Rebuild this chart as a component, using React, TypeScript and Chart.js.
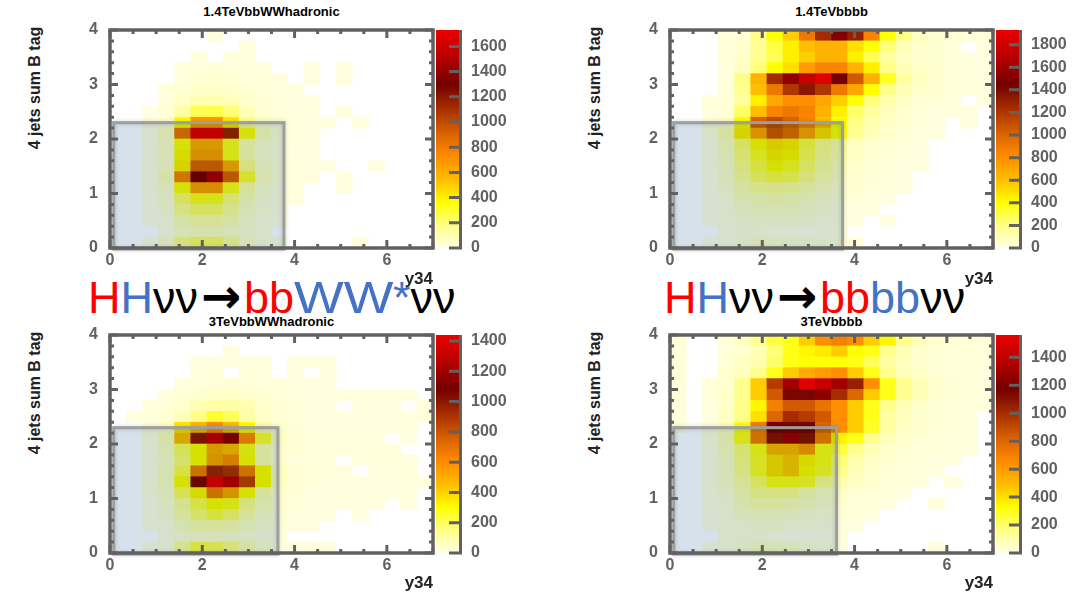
import React, { useEffect, useRef } from 'react';
import { Chart, registerables } from 'chart.js';

Chart.register(...registerables);

// ---------- axis ranges & ticks ----------
const X_MIN = 0;
const X_MAX = 7;
const Y_MIN = 0;
const Y_MAX = 4;
const N_X_BINS = 20;
const N_Y_BINS = 20;
const X_TICKS = [0, 2, 4, 6];
const Y_TICKS = [0, 1, 2, 3, 4];
const X_MINOR_STEP = 0.5;
const Y_MINOR_STEP = 0.2;
const CB_STEP = 200;

// ---------- histogram contents ----------
// rows from top (y 3.8-4.0) to bottom (y 0-0.2); 20 columns from x=0 to x=7
const bbWW14Rows: number[][] = [
  [0, 0, 0, 0, 0, 0, 20, 0, 0, 0, 0, 0, 0, 0, 0, 0, 0, 0, 0, 0],
  [0, 0, 0, 0, 0, 0, 0, 0, 20, 0, 0, 0, 0, 0, 0, 0, 0, 0, 0, 0],
  [0, 0, 0, 0, 0, 15, 0, 20, 20, 0, 0, 0, 0, 0, 0, 0, 0, 0, 0, 0],
  [0, 0, 0, 0, 20, 25, 30, 25, 20, 15, 0, 0, 15, 0, 15, 0, 0, 0, 0, 0],
  [0, 0, 0, 0, 25, 35, 40, 35, 25, 20, 15, 0, 15, 0, 15, 0, 0, 0, 0, 0],
  [0, 0, 0, 20, 35, 60, 60, 50, 35, 25, 15, 15, 0, 0, 0, 0, 0, 0, 0, 0],
  [0, 0, 0, 25, 60, 100, 110, 90, 50, 30, 20, 15, 15, 0, 0, 0, 0, 0, 0, 0],
  [0, 0, 10, 30, 120, 250, 260, 200, 90, 40, 25, 15, 15, 0, 15, 0, 0, 0, 0, 0],
  [0, 0, 15, 40, 350, 650, 650, 420, 150, 60, 30, 20, 15, 15, 0, 15, 0, 0, 0, 0],
  [0, 0, 20, 80, 820, 1700, 1720, 1150, 350, 100, 40, 25, 15, 0, 0, 0, 0, 0, 0, 0],
  [0, 0, 15, 60, 350, 600, 600, 320, 120, 50, 30, 15, 15, 0, 0, 0, 0, 0, 0, 0],
  [0, 0, 15, 60, 380, 650, 650, 330, 120, 50, 30, 15, 15, 0, 0, 0, 0, 0, 0, 0],
  [0, 0, 15, 60, 400, 900, 900, 600, 180, 60, 30, 15, 15, 15, 0, 0, 15, 0, 0, 0],
  [0, 0, 20, 90, 750, 1320, 1480, 900, 300, 80, 35, 20, 15, 0, 15, 0, 0, 0, 0, 0],
  [0, 0, 15, 60, 350, 650, 650, 330, 130, 50, 25, 15, 0, 0, 15, 0, 0, 0, 0, 0],
  [0, 0, 12, 45, 220, 330, 330, 200, 90, 40, 20, 15, 0, 0, 0, 0, 0, 0, 0, 0],
  [0, 0, 10, 35, 170, 220, 220, 150, 70, 30, 15, 0, 0, 0, 0, 0, 0, 0, 0, 0],
  [0, 0, 8, 25, 100, 130, 130, 100, 50, 25, 10, 0, 0, 0, 0, 0, 0, 0, 0, 0],
  [0, 0, 0, 20, 60, 80, 80, 60, 35, 20, 0, 0, 0, 0, 0, 0, 0, 0, 0, 0],
  [0, 0, 10, 60, 180, 220, 220, 150, 60, 25, 15, 0, 0, 0, 0, 15, 0, 0, 0, 0],
];

const bbbb14Rows: number[][] = [
  [0, 0, 0, 30, 40, 200, 400, 550, 900, 1250, 1500, 1300, 850, 400, 200, 80, 50, 40, 30, 30],
  [0, 0, 0, 25, 50, 180, 300, 450, 600, 650, 650, 500, 400, 220, 100, 60, 40, 30, 0, 20],
  [0, 0, 0, 25, 60, 180, 280, 450, 550, 650, 650, 450, 280, 150, 80, 50, 40, 30, 20, 20],
  [0, 0, 0, 20, 80, 220, 400, 500, 750, 850, 850, 650, 450, 200, 100, 60, 40, 30, 20, 20],
  [0, 0, 0, 30, 200, 650, 1250, 1550, 1750, 1880, 1450, 1050, 650, 350, 150, 80, 50, 30, 20, 20],
  [0, 0, 0, 30, 180, 600, 900, 1200, 1350, 1200, 900, 700, 400, 200, 100, 60, 40, 30, 20, 20],
  [0, 0, 20, 30, 150, 450, 700, 800, 800, 700, 550, 400, 220, 120, 70, 40, 30, 20, 0, 20],
  [0, 0, 20, 40, 250, 600, 850, 900, 850, 650, 450, 250, 150, 90, 50, 30, 20, 20, 20, 0],
  [0, 0, 25, 60, 400, 1000, 1100, 1000, 850, 600, 400, 200, 120, 70, 40, 30, 20, 0, 20, 0],
  [0, 0, 30, 120, 450, 700, 1050, 950, 700, 500, 380, 180, 100, 60, 35, 20, 20, 0, 0, 0],
  [0, 0, 20, 90, 250, 400, 480, 450, 300, 200, 150, 80, 50, 35, 25, 20, 0, 0, 0, 0],
  [0, 0, 20, 80, 220, 350, 450, 420, 280, 180, 120, 70, 45, 30, 20, 15, 0, 0, 0, 0],
  [0, 0, 20, 70, 200, 300, 400, 350, 250, 160, 100, 60, 40, 30, 20, 15, 0, 0, 0, 0],
  [0, 0, 15, 60, 170, 260, 300, 280, 200, 140, 80, 50, 35, 25, 15, 0, 0, 0, 0, 0],
  [0, 0, 12, 50, 120, 170, 180, 170, 130, 90, 50, 40, 25, 20, 15, 0, 0, 0, 0, 0],
  [0, 0, 10, 35, 80, 110, 120, 110, 90, 60, 40, 25, 20, 15, 0, 0, 0, 0, 0, 0],
  [0, 0, 8, 25, 60, 80, 80, 80, 60, 40, 25, 20, 15, 0, 0, 0, 0, 0, 0, 0],
  [0, 0, 6, 20, 40, 50, 50, 50, 40, 30, 20, 15, 0, 15, 0, 0, 0, 0, 0, 0],
  [0, 0, 0, 15, 25, 30, 10, 10, 10, 15, 15, 0, 0, 0, 0, 0, 0, 0, 0, 0],
  [0, 0, 6, 15, 40, 60, 50, 50, 40, 30, 25, 20, 0, 0, 0, 0, 0, 0, 0, 0],
];

const bbWW3Rows: number[][] = [
  [0, 0, 0, 0, 0, 0, 0, 0, 0, 0, 0, 0, 0, 0, 0, 0, 0, 0, 0, 0],
  [0, 0, 0, 0, 0, 0, 0, 15, 0, 0, 0, 0, 0, 0, 0, 0, 0, 0, 0, 0],
  [0, 0, 0, 0, 0, 15, 15, 15, 15, 15, 0, 15, 15, 15, 0, 0, 0, 0, 0, 0],
  [0, 0, 0, 0, 0, 15, 20, 0, 20, 15, 0, 15, 0, 15, 0, 0, 0, 0, 0, 0],
  [0, 0, 0, 0, 15, 20, 25, 25, 25, 20, 20, 15, 15, 15, 0, 0, 0, 0, 0, 0],
  [0, 0, 0, 15, 25, 40, 50, 50, 40, 30, 20, 20, 15, 15, 15, 15, 15, 15, 15, 0],
  [0, 0, 15, 20, 40, 80, 100, 100, 80, 40, 25, 20, 15, 15, 0, 15, 15, 15, 0, 15],
  [0, 15, 15, 30, 70, 150, 250, 200, 100, 50, 30, 20, 15, 15, 15, 15, 15, 15, 15, 15],
  [0, 0, 15, 40, 350, 450, 600, 450, 300, 90, 40, 25, 15, 15, 15, 15, 15, 15, 15, 0],
  [0, 0, 15, 80, 450, 1000, 1320, 1150, 600, 250, 60, 30, 20, 15, 15, 15, 15, 0, 15, 0],
  [0, 0, 15, 60, 200, 300, 500, 450, 280, 100, 40, 25, 15, 15, 15, 15, 15, 15, 0, 0],
  [0, 0, 15, 50, 170, 300, 520, 600, 300, 100, 35, 20, 15, 15, 0, 15, 15, 15, 15, 0],
  [0, 0, 15, 60, 220, 650, 950, 900, 650, 300, 60, 30, 20, 15, 15, 0, 15, 15, 15, 0],
  [0, 0, 20, 60, 300, 1050, 1430, 1280, 850, 300, 60, 30, 20, 15, 15, 15, 15, 15, 15, 15],
  [0, 0, 15, 50, 200, 320, 650, 520, 300, 100, 40, 25, 15, 15, 15, 15, 15, 15, 15, 0],
  [0, 0, 12, 40, 120, 220, 300, 280, 150, 70, 30, 20, 15, 15, 15, 15, 15, 0, 15, 0],
  [0, 0, 10, 30, 100, 170, 230, 180, 100, 50, 25, 15, 15, 15, 0, 15, 0, 0, 0, 0],
  [0, 0, 8, 20, 60, 100, 100, 90, 60, 35, 20, 15, 15, 0, 0, 0, 0, 0, 0, 0],
  [0, 0, 0, 15, 35, 50, 50, 45, 35, 20, 15, 0, 0, 0, 0, 0, 0, 0, 0, 0],
  [0, 0, 8, 20, 120, 220, 200, 150, 80, 40, 15, 15, 15, 15, 0, 0, 0, 0, 0, 0],
];

const bbbb3Rows: number[][] = [
  [20, 0, 0, 25, 60, 150, 250, 300, 450, 650, 700, 650, 450, 350, 150, 80, 40, 30, 25, 20],
  [20, 0, 0, 20, 40, 80, 180, 300, 350, 380, 450, 330, 300, 150, 80, 40, 30, 25, 20, 20],
  [20, 0, 0, 25, 60, 90, 200, 300, 320, 320, 320, 300, 220, 120, 70, 40, 30, 20, 20, 15],
  [20, 0, 0, 40, 70, 150, 300, 450, 550, 600, 650, 450, 300, 150, 80, 50, 30, 20, 20, 15],
  [20, 0, 20, 40, 150, 450, 950, 1300, 1520, 1420, 1300, 1050, 650, 300, 150, 80, 40, 30, 20, 15],
  [20, 0, 20, 50, 150, 450, 850, 1150, 1150, 1250, 1000, 800, 450, 300, 150, 80, 40, 30, 20, 15],
  [20, 0, 15, 50, 160, 350, 700, 850, 850, 750, 650, 450, 300, 150, 80, 50, 30, 20, 15, 15],
  [20, 0, 15, 60, 160, 400, 800, 1000, 950, 850, 650, 450, 300, 120, 70, 40, 30, 20, 15, 0],
  [15, 0, 20, 70, 300, 700, 1200, 1150, 1150, 800, 650, 450, 280, 120, 60, 40, 25, 20, 15, 0],
  [0, 0, 15, 80, 300, 700, 1100, 1300, 1100, 700, 350, 300, 150, 80, 50, 30, 20, 20, 15, 0],
  [0, 0, 15, 70, 180, 300, 500, 500, 600, 300, 250, 150, 80, 50, 30, 20, 20, 15, 15, 0],
  [0, 0, 15, 60, 170, 280, 400, 450, 350, 300, 180, 100, 60, 40, 25, 20, 15, 15, 0, 0],
  [0, 0, 15, 50, 150, 280, 400, 450, 330, 280, 150, 80, 50, 30, 20, 15, 15, 0, 0, 0],
  [0, 0, 15, 50, 120, 200, 300, 300, 280, 150, 100, 60, 40, 25, 20, 15, 0, 15, 0, 0],
  [0, 0, 12, 40, 90, 150, 160, 150, 100, 70, 50, 35, 25, 20, 15, 0, 0, 0, 0, 0],
  [0, 0, 10, 30, 70, 100, 100, 90, 70, 50, 35, 25, 20, 15, 0, 0, 15, 0, 0, 0],
  [0, 0, 8, 25, 50, 60, 60, 50, 40, 30, 25, 20, 15, 0, 0, 0, 0, 0, 0, 0],
  [0, 0, 6, 20, 30, 40, 40, 30, 30, 20, 15, 15, 0, 0, 0, 0, 0, 0, 0, 0],
  [0, 0, 0, 15, 25, 25, 10, 5, 5, 10, 15, 0, 0, 0, 0, 0, 0, 0, 0, 0],
  [0, 0, 6, 15, 40, 60, 60, 50, 30, 20, 15, 0, 0, 0, 0, 0, 15, 0, 0, 0],
];

const panelTitles = ['1.4TeVbbWWhadronic', '1.4TeVbbbb', '3TeVbbWWhadronic', '3TeVbbbb'];
const panelRows = [bbWW14Rows, bbbb14Rows, bbWW3Rows, bbbb3Rows];
const panelZMax = [1730, 1930, 1440, 1560];
const cutBoxXMax = [3.77, 3.74, 3.64, 3.61];
const CUT_BOX_X_MIN = 0.08;
const CUT_BOX_Y_MIN = -0.02;
const CUT_BOX_Y_MAX = 2.3;

// ---------- palette ----------
const PALETTE_STOPS = [0, 0.1, 0.21, 0.31, 0.42, 0.52, 0.63, 0.75, 0.88, 1];
const PALETTE_COLORS = [
  [255, 255, 230], [255, 255, 140], [255, 255, 0], [255, 190, 0], [255, 140, 0],
  [220, 100, 0], [170, 50, 0], [115, 0, 0], [185, 0, 0], [235, 0, 0],
];

function paletteColor(f: number): string {
  const t = Math.max(0, Math.min(1, f));
  for (let i = 1; i < PALETTE_STOPS.length; i++) {
    if (t <= PALETTE_STOPS[i]) {
      const a = PALETTE_STOPS[i - 1];
      const b = PALETTE_STOPS[i];
      const k = (t - a) / (b - a);
      const c0 = PALETTE_COLORS[i - 1];
      const c1 = PALETTE_COLORS[i];
      const c = c0.map((v, j) => Math.round(v + (c1[j] - v) * k));
      return `rgb(${c[0]},${c[1]},${c[2]})`;
    }
  }
  const l = PALETTE_COLORS[PALETTE_COLORS.length - 1];
  return `rgb(${l[0]},${l[1]},${l[2]})`;
}

// ---------- layout ----------
const FONT = "'Liberation Sans', Arial, Helvetica, sans-serif";
const AXIS_GRAY = '#616161';
const PLOT_W = 323;
const PLOT_H = 218;
const AXIS_W = 45;
const AXIS_H = 45;
const PAD_T = 10;
const PAD_R = 8;
const CB_GAP = 3;
const CB_W = 23;
const CB_AXIS_W = 60;
const panelLeft = [110, 670, 110, 670];
const panelTop = [30, 30, 335, 335];
const titleTop = [5, 5, 315, 315];
const xTitlePad = [3.3, 3.3, 4.5, 4.5];

const RED = '#ff0000';
const BLUE = '#4472c4';

type Cell = { x: number; y: [number, number]; v: number };

const noPad = (s: any) => {
  s.paddingTop = 0;
  s.paddingBottom = 0;
  s.paddingLeft = 0;
  s.paddingRight = 0;
};

function Panel({ idx }: { idx: number }) {
  const mainRef = useRef<HTMLCanvasElement>(null);
  const cbRef = useRef<HTMLCanvasElement>(null);
  const L = panelLeft[idx];
  const T = panelTop[idx];
  const zMax = panelZMax[idx];

  useEffect(() => {
    const xBin = (X_MAX - X_MIN) / N_X_BINS;
    const yBin = (Y_MAX - Y_MIN) / N_Y_BINS;
    const cells: Cell[] = [];
    panelRows[idx].forEach((row, r) => {
      const yLow = Y_MAX - (r + 1) * yBin;
      row.forEach((v, c) => {
        if (v > 0) cells.push({ x: X_MIN + (c + 0.5) * xBin, y: [yLow, yLow + yBin], v });
      });
    });

    const overlay = {
      id: 'overlay',
      afterDatasetsDraw(chart: any) {
        const { ctx, scales } = chart;
        const x = scales.x;
        const y = scales.y;
        const x0 = x.getPixelForValue(CUT_BOX_X_MIN);
        const x1 = x.getPixelForValue(cutBoxXMax[idx]);
        const y0 = y.getPixelForValue(CUT_BOX_Y_MIN);
        const y1 = y.getPixelForValue(CUT_BOX_Y_MAX);
        ctx.save();
        ctx.globalCompositeOperation = 'multiply';
        ctx.fillStyle = 'rgb(214,225,236)';
        ctx.fillRect(x0, y1, x1 - x0, y0 - y1);
        ctx.restore();
        ctx.save();
        ctx.shadowColor = 'rgba(0,0,0,0.18)';
        ctx.shadowBlur = 4;
        ctx.strokeStyle = '#9e9e9e';
        ctx.lineWidth = 3;
        ctx.strokeRect(x0, y1, x1 - x0, y0 - y1);
        ctx.restore();
      },
      afterDraw(chart: any) {
        const { ctx, chartArea: a, scales } = chart;
        const x = scales.x;
        const y = scales.y;
        ctx.save();
        ctx.strokeStyle = AXIS_GRAY;
        ctx.lineWidth = 3;
        ctx.beginPath();
        const nx = Math.round((X_MAX - X_MIN) / X_MINOR_STEP);
        for (let i = 0; i <= nx; i++) {
          const v = X_MIN + i * X_MINOR_STEP;
          const px = x.getPixelForValue(v);
          const len = X_TICKS.includes(v) ? 8 : 4;
          ctx.moveTo(px, a.bottom); ctx.lineTo(px, a.bottom - len);
          ctx.moveTo(px, a.top); ctx.lineTo(px, a.top + len);
        }
        const ny = Math.round((Y_MAX - Y_MIN) / Y_MINOR_STEP);
        for (let i = 0; i <= ny; i++) {
          const v = Y_MIN + i * Y_MINOR_STEP;
          const py = y.getPixelForValue(v);
          const len = i % 5 === 0 ? 8 : 4;
          ctx.moveTo(a.left, py); ctx.lineTo(a.left + len, py);
          ctx.moveTo(a.right, py); ctx.lineTo(a.right - len, py);
        }
        ctx.stroke();
        ctx.lineWidth = 3.5;
        ctx.strokeRect(a.left, a.top, a.right - a.left, a.bottom - a.top);
        ctx.restore();
      },
    };

    const tickFont = { family: FONT, size: 16, weight: 'bold' as const };

    const main = new Chart(mainRef.current as HTMLCanvasElement, {
      type: 'bar',
      data: {
        datasets: [
          {
            data: cells as any,
            backgroundColor: (ctx: any) => (ctx.raw ? paletteColor(ctx.raw.v / zMax) : 'transparent'),
            borderWidth: 0,
            barPercentage: 1,
            categoryPercentage: 1,
          },
        ],
      },
      options: {
        responsive: false,
        maintainAspectRatio: false,
        animation: false,
        devicePixelRatio: 1,
        layout: { padding: { left: 0, right: PAD_R, top: PAD_T, bottom: 0 } },
        plugins: { legend: { display: false }, tooltip: { enabled: false } },
        scales: {
          x: {
            type: 'linear',
            min: X_MIN,
            max: X_MAX,
            offset: false,
            grid: { display: false, drawTicks: false },
            border: { display: false },
            afterBuildTicks: (s: any) => { s.ticks = X_TICKS.map((v) => ({ value: v })); },
            afterFit: (s: any) => { s.height = AXIS_H; noPad(s); },
            ticks: { font: tickFont, color: AXIS_GRAY, padding: 3, maxRotation: 0, autoSkip: false, callback: (v: any) => String(v) },
            title: {
              display: true,
              text: 'y34',
              align: 'end',
              color: '#222222',
              font: { family: FONT, size: 17, weight: 'bold' },
              padding: { top: 0, bottom: xTitlePad[idx] },
            },
          },
          y: {
            type: 'linear',
            min: Y_MIN,
            max: Y_MAX,
            grid: { display: false, drawTicks: false },
            border: { display: false },
            afterBuildTicks: (s: any) => { s.ticks = Y_TICKS.map((v) => ({ value: v })); },
            afterFit: (s: any) => { s.width = AXIS_W; noPad(s); },
            ticks: { font: tickFont, color: AXIS_GRAY, padding: 12, callback: (v: any) => String(v) },
          },
        },
      } as any,
      plugins: [overlay],
    });

    const cbFrame = {
      id: 'cbFrame',
      afterDraw(chart: any) {
        const { ctx, chartArea: a, scales } = chart;
        const y = scales.y;
        ctx.save();
        ctx.strokeStyle = AXIS_GRAY;
        ctx.lineWidth = 3;
        ctx.beginPath();
        ctx.moveTo(a.right + 1.5, a.top);
        ctx.lineTo(a.right + 1.5, a.bottom + 1.5);
        for (let v = 0; v <= zMax; v += CB_STEP) {
          const py = y.getPixelForValue(v);
          ctx.moveTo(a.right, py);
          ctx.lineTo(a.right - 10, py);
        }
        ctx.stroke();
        ctx.restore();
      },
    };

    const cb = new Chart(cbRef.current as HTMLCanvasElement, {
      type: 'bar',
      data: {
        labels: [''],
        datasets: [
          {
            data: [[0, zMax]] as any,
            backgroundColor: (ctx: any) => {
              const area = ctx.chart.chartArea;
              if (!area) return 'transparent';
              const g = ctx.chart.ctx.createLinearGradient(0, area.bottom, 0, area.top);
              PALETTE_STOPS.forEach((s) => g.addColorStop(s, paletteColor(s)));
              return g;
            },
            borderWidth: 0,
            barPercentage: 1,
            categoryPercentage: 1,
          },
        ],
      },
      options: {
        responsive: false,
        maintainAspectRatio: false,
        animation: false,
        devicePixelRatio: 1,
        layout: { padding: { left: 0, right: 0, top: PAD_T, bottom: PAD_T } },
        plugins: { legend: { display: false }, tooltip: { enabled: false } },
        scales: {
          x: { display: false },
          y: {
            position: 'right',
            min: 0,
            max: zMax,
            grid: { display: false, drawTicks: false },
            border: { display: false },
            afterBuildTicks: (s: any) => {
              const t: { value: number }[] = [];
              for (let v = 0; v <= zMax; v += CB_STEP) t.push({ value: v });
              s.ticks = t;
            },
            afterFit: (s: any) => { s.width = CB_AXIS_W; noPad(s); },
            ticks: { font: tickFont, color: AXIS_GRAY, padding: 12, callback: (v: any) => String(v) },
          },
        },
      } as any,
      plugins: [cbFrame],
    });

    return () => {
      main.destroy();
      cb.destroy();
    };
  }, [idx]);

  const mainW = AXIS_W + PLOT_W + PAD_R;
  const mainH = PAD_T + PLOT_H + AXIS_H;
  const cbW = CB_W + CB_AXIS_W;
  const cbH = PAD_T + PLOT_H + PAD_T;

  return (
    <>
      <div
        style={{
          position: 'absolute',
          left: L,
          top: titleTop[idx],
          width: PLOT_W,
          textAlign: 'center',
          font: `bold 13px ${FONT}`,
          lineHeight: '13px',
          color: '#000',
          whiteSpace: 'nowrap',
        }}
      >
        {panelTitles[idx]}
      </div>
      <div
        style={{
          position: 'absolute',
          left: L - 74 - 100,
          top: T + 58 - 10,
          width: 200,
          height: 20,
          lineHeight: '20px',
          textAlign: 'center',
          transform: 'rotate(-90deg)',
          font: `bold 16px ${FONT}`,
          color: '#222',
          whiteSpace: 'nowrap',
        }}
      >
        4 jets sum B tag
      </div>
      <canvas
        ref={mainRef}
        width={mainW}
        height={mainH}
        style={{ position: 'absolute', left: L - AXIS_W, top: T - PAD_T, width: mainW, height: mainH }}
      />
      <canvas
        ref={cbRef}
        width={cbW}
        height={cbH}
        style={{ position: 'absolute', left: L + PLOT_W + CB_GAP, top: T - PAD_T, width: cbW, height: cbH }}
      />
    </>
  );
}

const arrowStyle: React.CSSProperties = {
  display: 'inline-block',
  width: 46,
  textAlign: 'center',
  fontFamily: "'DejaVu Sans', sans-serif",
  fontWeight: 'bold',
  fontSize: 48,
  lineHeight: '45px',
};

export default function App() {
  const formulaStyle: React.CSSProperties = {
    position: 'absolute',
    top: 274,
    fontFamily: FONT,
    fontSize: 45,
    lineHeight: '45px',
    whiteSpace: 'nowrap',
    color: '#000',
  };
  return (
    <div style={{ position: 'absolute', left: 0, top: 0, width: 1089, height: 594, background: '#fff', overflow: 'hidden' }}>
      <div style={{ ...formulaStyle, left: 88 }}>
        <span style={{ color: RED }}>H</span>
        <span style={{ color: BLUE }}>H</span>
        <span>νν</span>
        <span style={arrowStyle}>→</span>
        <span style={{ color: RED }}>bb</span>
        <span
          style={{
            color: BLUE,
            display: 'inline-block',
            transform: 'scaleX(1.17)',
            transformOrigin: 'left center',
            marginRight: 14,
          }}
        >
          WW
        </span>
        <span style={{ color: BLUE }}>*</span>
        <span>νν</span>
      </div>
      <div style={{ ...formulaStyle, left: 664 }}>
        <span style={{ color: RED }}>H</span>
        <span style={{ color: BLUE }}>H</span>
        <span>νν</span>
        <span style={arrowStyle}>→</span>
        <span style={{ color: RED }}>bb</span>
        <span style={{ color: BLUE }}>bb</span>
        <span>νν</span>
      </div>
      {[0, 1, 2, 3].map((i) => (
        <Panel key={i} idx={i} />
      ))}
    </div>
  );
}
